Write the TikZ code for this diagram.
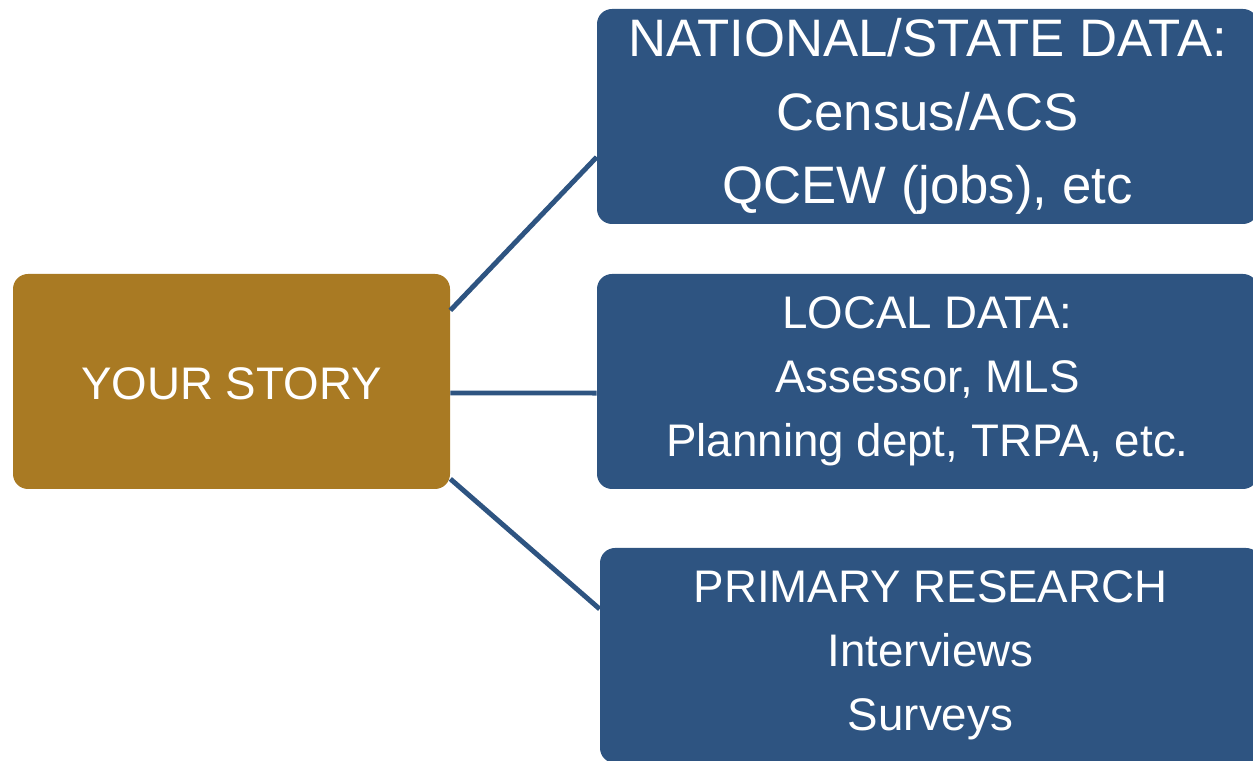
\documentclass[tikz,border=0pt]{standalone}
\usepackage{fontspec}
\setmainfont{Liberation Sans}
\usepackage{xcolor}
\usetikzlibrary{arrows.meta}
\definecolor{storygold}{RGB}{169,122,35}
\definecolor{sourceblue}{RGB}{46,84,129}
\begin{document}
\begin{tikzpicture}[
  box/.style={fill=sourceblue, text=white, rounded corners=0.3cm, inner sep=0pt,
              minimum width=13.22cm, minimum height=4.3cm, align=center,
              font=\fontsize{26}{36.4}\selectfont,
              execute at begin node={\rule[-0.21em]{0pt}{1.21em}}},
  link/.style={line width=2.8pt, draw=sourceblue}
]
  \useasboundingbox (0,0) rectangle (25.06,15.22);
  % Nodes
  \node[box, fill=storygold, minimum width=8.74cm] (story) at (4.63,7.59) {YOUR STORY};
  \node[box, font=\fontsize{30}{41.6}\selectfont] (national) at (18.55,12.89)
       {NATIONAL/STATE DATA:\\Census/ACS\\QCEW (jobs), etc};
  \node[box] (local)   at (18.55,7.59) {LOCAL DATA:\\Assessor, MLS\\Planning dept, TRPA, etc.};
  \node[box] (primary) at (18.61,2.11) {PRIMARY RESEARCH\\Interviews\\Surveys};

  % Paths
  \draw[link] (story.18.6) -- (national.187);
  \draw[link] (story.-3.5) -- (local.182.3);
  \draw[link] (story.-24.7) -- (primary.172.7);
\end{tikzpicture}
\end{document}
